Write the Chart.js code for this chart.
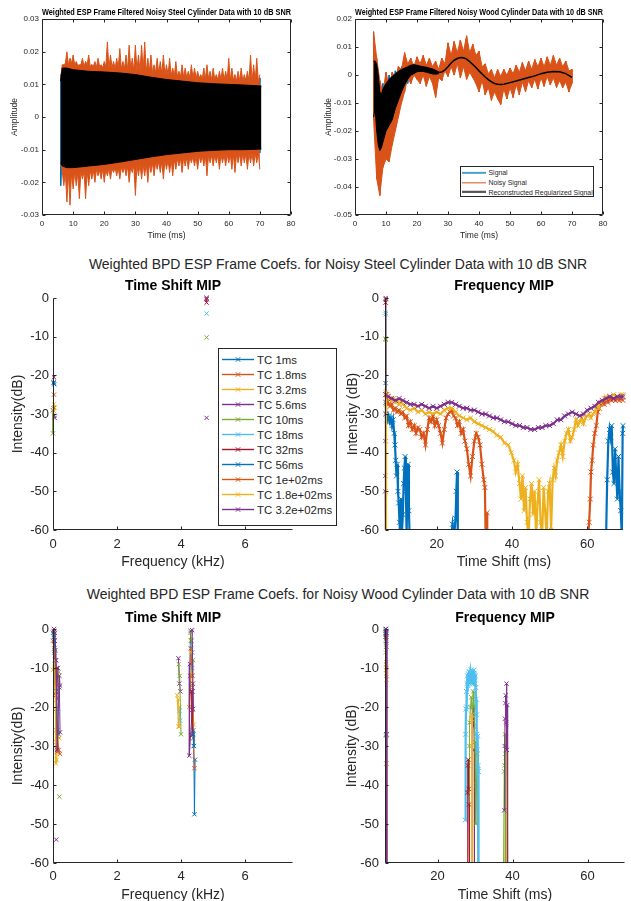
<!DOCTYPE html>
<html lang="en">
<head>
<meta charset="UTF-8">
<title>Weighted BPD ESP Frame Coefs.</title>
<script src="https://cdn.jsdelivr.net/npm/chart.js"></script>
<style>
  html, body { margin: 0; padding: 0; background: #fff; overflow: hidden; }
  #page { position: relative; width: 631px; height: 901px; font-family: "Liberation Sans", Arial, Helvetica, sans-serif; color: #262626; }
  canvas { position: absolute; }
  .suptitle { position: absolute; left: 38px; width: 600px; text-align: center; font-size: 14px; line-height: 16px; white-space: nowrap; }
  .legend { position: absolute; background: #fff; border: 1px solid #262626; box-sizing: border-box; }
  .legend .row { display: flex; align-items: center; white-space: nowrap; }
  .legend svg { flex: none; }
</style>
</head>
<body>
<div id="page">
  <canvas id="steelSignal" style="left:0px;top:0px" width="300" height="245"></canvas>
  <canvas id="woodSignal" style="left:315px;top:0px" width="297" height="245"></canvas>
  <div class="suptitle" style="top:256px">Weighted BPD ESP Frame Coefs. for Noisy Steel Cylinder Data with 10 dB SNR</div>
  <canvas id="steelTimeShift" style="left:0px;top:270px" width="302" height="305"></canvas>
  <canvas id="steelFreq" style="left:330px;top:270px" width="301" height="305"></canvas>
  <div class="suptitle" style="top:586px">Weighted BPD ESP Frame Coefs. for Noisy Wood Cylinder Data with 10 dB SNR</div>
  <canvas id="woodTimeShift" style="left:0px;top:600px" width="302" height="310"></canvas>
  <canvas id="woodFreq" style="left:330px;top:600px" width="301" height="310"></canvas>
  <div id="signalLegend" class="legend" style="left:460px;top:166px;width:134px;height:31px;padding-top:1px;font-size:6.9px"></div>
  <div id="tcLegend" class="legend" style="left:218px;top:348px;width:119px;height:178px;padding-top:3px;font-size:11.4px"></div>
</div>
<script>
// ---- top row: filtered signals (time in ms, amplitude) ----
const signalTimeTicks = [0, 10, 20, 30, 40, 50, 60, 70, 80];
const steelAmpTicks = [-0.03, -0.02, -0.01, 0, 0.01, 0.02, 0.03];
const woodAmpTicks = [-0.05, -0.04, -0.03, -0.02, -0.01, 0, 0.01, 0.02];

// steel: clean signal envelope (peaks / troughs)
const steelSignalTime = [6, 8, 10, 12, 14, 16, 18, 20, 22, 24, 26, 28, 30, 32, 34, 36, 38, 40, 42, 44, 46, 48, 50, 52, 54, 56, 58, 60, 62, 64, 66, 68, 70];
const steelSignalHigh = [0.013, 0.016, 0.015, 0.015, 0.015, 0.016, 0.015, 0.016, 0.015, 0.015,
  0.014, 0.015, 0.014, 0.013, 0.013, 0.013, 0.012, 0.012, 0.012, 0.013,
  0.012, 0.011, 0.012, 0.011, 0.012, 0.011, 0.011, 0.012, 0.011, 0.011,
  0.012, 0.011, 0.012];
const steelSignalLow = [-0.021, -0.018, -0.018, -0.019, -0.017, -0.017, -0.016, -0.016, -0.017, -0.016,
  -0.015, -0.015, -0.015, -0.014, -0.014, -0.014, -0.013, -0.013, -0.013, -0.013,
  -0.012, -0.012, -0.012, -0.013, -0.012, -0.012, -0.011, -0.012, -0.012, -0.011,
  -0.012, -0.011, -0.011];

// steel: noisy signal, spike peaks / troughs
const steelNoisyTime = [6, 7, 8, 9, 10, 11, 12, 13, 14, 15,
  16, 17, 18, 19, 20, 21, 22, 23, 24, 25,
  26, 27, 28, 29, 30, 31, 32, 33, 34, 35,
  36, 37, 38, 39, 40, 41, 42, 43, 44, 45,
  46, 47, 48, 49, 50, 51, 52, 53, 54, 55,
  56, 57, 58, 59, 60, 61, 62, 63, 64, 65,
  66, 67, 68, 69, 70];
const steelNoisyHigh = [0.012, 0.016, 0.020, 0.018, 0.019, 0.017, 0.016, 0.018, 0.017, 0.019,
  0.016, 0.017, 0.018, 0.016, 0.017, 0.023, 0.019, 0.017, 0.018, 0.021,
  0.017, 0.019, 0.022, 0.018, 0.022, 0.019, 0.022, 0.023, 0.018, 0.019,
  0.016, 0.018, 0.017, 0.019, 0.016, 0.018, 0.015, 0.017, 0.014, 0.016,
  0.015, 0.014, 0.016, 0.015, 0.014, 0.013, 0.015, 0.016, 0.014, 0.015,
  0.013, 0.014, 0.015, 0.014, 0.018, 0.015, 0.013, 0.014, 0.015, 0.013,
  0.014, 0.019, 0.016, 0.018, 0.013];
const steelNoisyLow = [-0.014, -0.021, -0.026, -0.027, -0.022, -0.021, -0.025, -0.019, -0.025, -0.021,
  -0.019, -0.020, -0.018, -0.019, -0.020, -0.018, -0.019, -0.017, -0.018, -0.019,
  -0.017, -0.018, -0.020, -0.017, -0.024, -0.018, -0.019, -0.018, -0.020, -0.017,
  -0.018, -0.016, -0.017, -0.019, -0.016, -0.017, -0.018, -0.016, -0.015, -0.017,
  -0.015, -0.016, -0.014, -0.015, -0.016, -0.014, -0.015, -0.018, -0.014, -0.015,
  -0.014, -0.016, -0.014, -0.015, -0.014, -0.016, -0.017, -0.014, -0.015, -0.014,
  -0.016, -0.014, -0.015, -0.014, -0.016];
// steel: noisy signal between the spikes
const steelValleyTime = [6.5, 7.5, 8.5, 9.5, 10.5, 11.5, 12.5, 13.5, 14.5, 15.5,
  16.5, 17.5, 18.5, 19.5, 20.5, 21.5, 22.5, 23.5, 24.5, 25.5,
  26.5, 27.5, 28.5, 29.5, 30.5, 31.5, 32.5, 33.5, 34.5, 35.5,
  36.5, 37.5, 38.5, 39.5, 40.5, 41.5, 42.5, 43.5, 44.5, 45.5,
  46.5, 47.5, 48.5, 49.5, 50.5, 51.5, 52.5, 53.5, 54.5, 55.5,
  56.5, 57.5, 58.5, 59.5, 60.5, 61.5, 62.5, 63.5, 64.5, 65.5,
  66.5, 67.5, 68.5, 69.5];
const steelValleyHigh = [0.016, 0.0165, 0.016, 0.0165, 0.016, 0.0158, 0.016, 0.0155, 0.016, 0.0155,
  0.0155, 0.0152, 0.0155, 0.015, 0.0153, 0.015, 0.0152, 0.0148, 0.015, 0.0147,
  0.0148, 0.0145, 0.0147, 0.0143, 0.0145, 0.014, 0.0142, 0.0138, 0.014, 0.0136,
  0.0135, 0.0133, 0.0132, 0.013, 0.0128, 0.0127, 0.0125, 0.0124, 0.0123, 0.0122,
  0.012, 0.0121, 0.0119, 0.0118, 0.0119, 0.0117, 0.0116, 0.0117, 0.0115, 0.0116,
  0.0114, 0.0115, 0.0113, 0.0114, 0.0112, 0.0113, 0.0111, 0.0112, 0.011, 0.0111,
  0.011, 0.0109, 0.011, 0.0108];
const steelValleyLow = [-0.0165, -0.017, -0.0172, -0.017, -0.0168, -0.017, -0.0167, -0.0165, -0.0166, -0.0163,
  -0.0163, -0.016, -0.0162, -0.0158, -0.016, -0.0157, -0.0158, -0.0155, -0.0156, -0.0153,
  -0.0152, -0.015, -0.0151, -0.0147, -0.0148, -0.0145, -0.0146, -0.0142, -0.0143, -0.014,
  -0.0139, -0.0137, -0.0136, -0.0133, -0.0132, -0.013, -0.0129, -0.0127, -0.0126, -0.0124,
  -0.0123, -0.0122, -0.0121, -0.012, -0.0119, -0.0119, -0.0118, -0.0117, -0.0117, -0.0116,
  -0.0116, -0.0115, -0.0115, -0.0114, -0.0114, -0.0113, -0.0113, -0.0112, -0.0112, -0.0112,
  -0.0112, -0.0111, -0.0111, -0.011];

// steel: reconstructed signal envelope
const steelRecTime = [6, 6.5, 8, 10, 15, 20, 25, 30, 35, 40, 45, 50, 55, 60, 65, 70.5];
const steelRecUpper = [0.011, 0.015, 0.015, 0.0145, 0.014, 0.0138, 0.0135, 0.013, 0.0122, 0.0115, 0.011, 0.0105, 0.0102, 0.01, 0.0098, 0.0095];
const steelRecLower = [-0.014, -0.015, -0.0155, -0.0155, -0.015, -0.0145, -0.0138, -0.013, -0.0122, -0.0115, -0.011, -0.0105, -0.0102, -0.01, -0.01, -0.0098];

// wood: early oscillating part of the signals
const woodBandTime = [6, 6.5, 7, 7.5, 8, 8.5, 9, 10, 11, 12, 13, 14, 15, 16, 17, 18, 19, 20, 21, 22, 23, 24, 25, 26, 27];
const woodSignalHigh = [0.006, 0.005, 0.005, 0.002, -0.003, -0.005, -0.003, -0.001, 0.0, 0.0005,
  0.0015, 0.002, 0.003, 0.0035, 0.0035, 0.004, 0.004, 0.004, 0.0035, 0.0033,
  0.003, 0.0028, 0.0025, 0.002, 0.0014];
const woodSignalLow = [-0.016, -0.014, -0.022, -0.034, -0.038, -0.035, -0.029, -0.024, -0.021, -0.018,
  -0.014, -0.011, -0.008, -0.005, -0.003, -0.001, 0.0, 0.0008, 0.001, 0.001,
  0.0008, 0.0005, 0.0002, 0.0001, 0.0003];
const woodRecHigh = [0.005, 0.005, 0.004, 0.0, -0.006, -0.007, -0.005, -0.003, -0.0015, -0.0005,
  0.0005, 0.0013, 0.002, 0.0025, 0.003, 0.0035, 0.0037, 0.0035, 0.0032, 0.003,
  0.0028, 0.0025, 0.0022, 0.0017, 0.0011];
const woodRecLow = [-0.015, -0.012, -0.02, -0.025, -0.027, -0.026, -0.024, -0.02, -0.018, -0.016,
  -0.012, -0.009, -0.006, -0.0035, -0.0015, 0.0, 0.0005, 0.0012, 0.0013, 0.0013,
  0.001, 0.0007, 0.0004, 0.0003, 0.0005];

// wood: noisy signal peaks / troughs
const woodNoisyTime = [6, 7, 8, 9, 10, 11, 12, 13, 14, 15,
  16, 17, 18, 19, 20, 21, 22, 23, 24, 25,
  26, 27, 28, 29, 30, 31, 32, 33, 34, 35,
  36, 37, 38, 39, 40, 41, 42, 43, 44, 45,
  46, 47, 48, 49, 50, 51, 52, 53, 54, 55,
  56, 57, 58, 59, 60, 61, 62, 63, 64, 65,
  66, 67, 68, 69, 70];
const woodNoisyHigh = [0.0155, 0.006, -0.002, -0.006, 0.001, -0.004, 0.001, -0.001, 0.003, 0.002,
  0.008, 0.004, 0.006, 0.003, 0.0065, 0.004, 0.007, 0.0035, 0.006, 0.003,
  0.005, 0.002, 0.006, 0.004, 0.0115, 0.007, 0.012, 0.008, 0.0125, 0.0085,
  0.014, 0.008, 0.011, 0.007, 0.0085, 0.003, 0.004, 0.0005, 0.002, -0.001,
  0.002, -0.0005, 0.002, 0.0, 0.0025, 0.0005, 0.0035, 0.001, 0.0045, 0.0015,
  0.005, 0.002, 0.0055, 0.003, 0.006, 0.003, 0.0065, 0.0035, 0.007, 0.0035,
  0.006, 0.003, 0.005, 0.0015, 0.002];
const woodNoisyLow = [-0.016, -0.037, -0.043, -0.033, -0.03, -0.031, -0.025, -0.02, -0.015, -0.01,
  -0.006, -0.001, -0.003, 0.0, -0.0015, -0.003, 0.0, -0.004, -0.0005, -0.003,
  -0.008, -0.001, -0.002, 0.0015, -0.0005, 0.003, 0.0, 0.004, -0.001, 0.003,
  -0.0015, 0.001, -0.001, -0.003, -0.006, -0.002, -0.007, -0.0045, -0.009, -0.006,
  -0.0085, -0.0105, -0.005, -0.0085, -0.0045, -0.008, -0.0035, -0.007, -0.0025, -0.006,
  -0.002, -0.0045, -0.0015, -0.005, -0.001, -0.004, -0.0005, -0.0035, -0.001, -0.0045,
  -0.002, -0.0045, -0.0025, -0.006, -0.003];

// wood: reconstructed smooth part
const woodRecTime = [20, 22, 24, 26, 27, 28, 29, 30, 31, 32, 33, 34, 35, 36, 37, 38, 39, 40, 41, 42, 43, 44, 45, 46, 47, 48, 50, 52, 54, 56, 58, 60, 62, 64, 66, 68, 70];
const woodRecValue = [0.0024, 0.0027, 0.0022, 0.0012, 0.0009, 0.0011, 0.0018, 0.003, 0.0043, 0.0053,
  0.0059, 0.0063, 0.0062, 0.0057, 0.0048, 0.0038, 0.0027, 0.0015, 0.0004, -0.0007,
  -0.0016, -0.0024, -0.003, -0.0033, -0.0034, -0.0033, -0.0027, -0.0021, -0.0015, -0.0009,
  -0.0003, 0.0005, 0.001, 0.0013, 0.0012, 0.0005, -0.0008];

const signalLegendLabels = ['Signal', 'Noisy Signal', 'Reconstructed Regularized Signal'];

// ---- MIP plots: one list of [x, dB] points per time constant, null = gap ----
const tcLabels = ['TC 1ms', 'TC 1.8ms', 'TC 3.2ms', 'TC 5.6ms', 'TC 10ms', 'TC 18ms', 'TC 32ms', 'TC 56ms', 'TC 1e+02ms', 'TC 1.8e+02ms', 'TC 3.2e+02ms'];
const intensityTicks = [-60, -50, -40, -30, -20, -10, 0];
const freqTicks = [0, 2, 4, 6];
const shiftTicks = [20, 40, 60];

const steelTimeShiftMip = [
  [[0.02, -21.8], [0.04, -22.3]],
  [[0.03, -25]],
  [[0.03, -27.5], [0.05, -28.3]],
  [[0.0, -29], [0.04, -30.5], null, [4.8, 0]],
  [[0.0, -29], [0.0, -35], null, [4.8, -10.2]],
  [[4.8, -4]],
  [[0.03, -20.5], null, [4.8, -1.2], [4.8, -0.3]],
  [[0.02, -22]],
  [[0.02, -28.5]],
  [[0.03, -29.2]],
  [[0.05, -31], null, [4.8, 0], null, [4.8, -31]]
];

const steelFreqMip = [
  [[6.3, -62], [6.4, -22], [6.5, -62]],
  [[6.3, -62], [6.4, -25], [6.5, -62]],
  [[6.3, -62], [6.4, -27.5], [6.5, -62]],
  [[6.3, -50], [6.33, -46], [6.36, -37], [6.39, -30], [6.42, 0], [6.45, -62]],
  [[6.35, -62], [6.4, -10.5], [6.45, -10.8], [6.5, -62]],
  [[6.35, -62], [6.4, -3.8], [6.44, -4.2], [6.5, -62]],
  [[6.35, -62], [6.4, -1.2], [6.45, -0.3], [6.5, -62]],
  [[6.45, -27], [6.6, -30], [6.9, -31.5], [7.2, -30.5], [7.5, -32], [7.8, -31], [8.1, -33], [8.4, -31.5], [8.7, -35], [8.9, -38],
   [9.1, -42], [9.3, -46], [9.5, -43], [9.7, -50], [9.9, -53], [10.1, -58], [10.3, -62], [10.5, -52], [10.7, -62], [11.0, -56],
   [11.2, -48], [11.4, -44], [11.6, -41], [11.8, -50], [12.0, -62], [12.2, -47], [12.4, -43], [12.6, -55], [12.8, -62], null,
   [23.8, -62], [24.2, -58.5], [24.6, -62], [25.0, -57], [25.2, -50], [25.4, -45], [25.6, -62], null,
   [65.0, -62], [65.3, -47], [65.6, -37], [65.9, -34], [66.2, -36], [66.5, -33], [66.8, -45], [67.1, -48], [67.4, -39], [67.7, -46],
   [68.0, -52], [68.3, -41], [68.6, -50], [68.9, -55], [69.2, -62], [69.4, -35], [69.5, -33]],
  [[6.4, -62], [6.5, -25], [6.8, -26], [7.2, -27.5], [7.6, -28], [8.0, -27.5], [8.5, -29], [9.0, -28.5], [9.5, -29.5], [10.0, -29],
   [10.5, -30], [11.0, -29.5], [11.5, -31], [12.0, -30.5], [12.5, -33], [13.0, -32], [13.5, -34], [14.0, -33], [14.5, -35], [15.0, -33.5],
   [15.5, -34], [16.0, -36], [16.5, -35], [17.0, -38], [17.5, -34], [18.0, -31], [18.5, -32], [19.0, -30.5], [19.5, -33], [20.0, -31.5],
   [20.5, -33], [21.0, -35], [21.5, -37.5], [22.0, -34], [22.5, -31], [23.0, -30], [23.5, -29.5], [24.0, -29], [24.5, -30.5], [25.0, -31],
   [25.5, -33], [26.0, -32], [26.5, -35], [27.0, -34], [27.5, -37], [28.0, -39], [28.5, -43], [29.0, -46], [29.5, -41], [30.0, -37],
   [30.5, -35], [31.0, -36], [31.5, -38], [32.0, -43], [32.5, -47], [32.8, -49], [33.0, -62], null,
   [33.4, -62], [33.4, -55.5], [33.45, -62], null,
   [60.2, -62], [60.5, -58], [60.8, -52], [61.0, -45], [61.3, -42], [61.6, -38], [62.0, -35], [62.4, -33], [62.8, -29.5], [63.2, -28.5],
   [63.6, -27.5], [64.0, -27], [64.5, -27.5], [65.0, -26.5], [65.5, -27], [66.0, -26], [66.5, -26.5], [67, -26], [67.5, -26.5], [68, -26],
   [68.5, -26.5], [69, -26], [69.5, -26.5]],
  [[6.4, -62], [6.5, -24.5], [6.8, -25], [7.2, -25.5], [7.6, -26], [8.0, -26.5], [8.5, -26], [9.0, -27], [9.5, -26.5], [10.0, -27.5],
   [10.5, -27], [11.0, -27.5], [11.5, -28], [12.0, -28.5], [13.0, -29], [14.0, -28.5], [15.0, -29.5], [16.0, -29], [17.0, -30], [18.0, -29.5],
   [19.0, -30], [20.0, -29.5], [21.0, -30], [22.0, -29], [23.0, -28.5], [24.0, -28.5], [25.0, -29.5], [26.0, -30.5], [27.0, -31], [28.0, -31.5],
   [29.0, -31], [30.0, -32], [31.0, -32.5], [32.0, -33], [33.0, -33.5], [34.0, -34], [35.0, -34.5], [36.0, -35.5], [37.0, -36], [38.0, -37.5],
   [39.0, -38], [39.8, -40], [40.5, -42], [41.0, -45], [41.5, -43], [42.0, -48], [42.4, -52], [42.8, -46], [43.2, -55], [43.6, -49],
   [44.0, -58], [44.4, -62], [44.8, -52], [45.2, -48], [45.6, -56], [46.0, -50], [46.4, -62], [46.8, -53], [47.2, -47], [47.6, -58],
   [48.0, -62], [48.4, -49], [48.8, -55], [49.2, -62], [49.6, -50], [50.0, -48], [50.4, -60], [50.8, -47], [51.2, -44], [51.6, -46],
   [52.0, -42], [52.5, -40], [53.0, -38], [53.5, -41], [54.0, -37], [54.5, -35], [55.0, -34], [55.5, -37], [56.0, -36], [56.5, -34],
   [57.0, -31.5], [57.5, -33], [58.0, -32], [58.5, -31], [59.0, -32.5], [59.5, -31], [60.0, -30.5], [60.5, -30], [61.0, -31], [61.5, -30],
   [62.0, -29.5], [62.5, -28], [63.0, -28.5], [63.5, -27], [64.0, -26.5], [64.5, -26], [65.0, -25.5], [66, -25.5], [67, -25], [68, -25.5],
   [69, -25], [69.5, -25]],
  [[6.45, -25], [7, -25.5], [8, -26], [9, -26.5], [10, -26], [11, -26.5], [12, -27], [13, -27.5], [14, -27.5], [15, -28],
   [16, -27.5], [17, -28], [18, -28.5], [19, -28], [20, -28.5], [21, -28], [22, -27.5], [23, -27], [24, -27], [25, -27.5],
   [26, -28], [27, -28.5], [28, -28.5], [29, -29], [30, -29], [31, -29.5], [32, -30], [33, -30], [34, -30.5], [35, -31],
   [36, -31], [37, -31.5], [38, -32], [39, -32], [40, -32.5], [41, -33], [42, -33], [43, -33.5], [44, -33.5], [45, -34],
   [46, -34], [47, -33.5], [48, -33.5], [49, -33], [50, -33], [51, -32.5], [52, -31.5], [53, -31.5], [54, -30.5], [55, -30],
   [56, -29.5], [57, -30], [58, -30.5], [59, -30], [60, -29], [61, -28.5], [62, -28], [63, -27], [64, -26.5], [65, -26],
   [66, -25.5], [67, -26], [68, -25.5], [69, -25.5], [69.5, -25.5]]
];

const woodTimeShiftMip = [
  [[0.0, -1], [0.03, -2], [0.06, -5.5], [0.1, -16], [0.14, -21.5], [0.18, -27], null,
   [4.32, -3], [4.35, -10], [4.38, -26], [4.4, -30], [4.42, -47.5], [4.44, -33.5]],
  [[0.0, -3], [0.04, -6], [0.07, -9.5], [0.1, -20.5], [0.14, -26], [0.18, -31], [0.22, -32], null,
   [4.28, -12], [4.33, -20], [4.38, -28], [4.42, -35.7]],
  [[0.0, -10.5], [0.04, -4], [0.07, -14], [0.09, -34.5], [0.12, -33.5], [0.16, -27.5], [0.2, -28], null,
   [3.88, -17], [3.92, -25], [3.96, -20], null, [4.25, -20], [4.3, -3], [4.35, -12], [4.4, -24.5]],
  [[0.03, 0], [0.05, -3], [0.08, -8], [0.12, -18], [0.15, -10], [0.2, -15], [0.22, -26.5], null,
   [3.92, -7.5], [3.95, -14], [3.98, -16], null, [4.3, -0.5], [4.28, -9], [4.26, -32.5], [4.35, -20.7]],
  [[0.02, -1], [0.06, -10], [0.1, -26], [0.14, -27.5], [0.18, -11], null, [0.2, -43], null,
   [3.93, -9], [3.96, -12], [4.0, -27], null, [4.3, -1], [4.33, -3], [4.36, -15], [4.38, -8]],
  [[0.02, -2], [0.05, -6], [0.12, -21], [0.16, -21.5], null,
   [3.95, -21], [3.97, -23.5], null, [4.32, -4], [4.34, -10], [4.36, -6]],
  [[0.02, -0.5], [0.05, -3], [0.08, -17], [0.12, -10], null, [4.33, -16], [4.35, -27.2], [4.37, -14]],
  [[0.03, -1.5], [0.06, -5.5], [0.1, -16], null, [4.38, -27], [4.4, -30]],
  [[0.04, -5], [0.09, -20.5], [0.13, -31.5], null, [4.3, -5], [4.36, -12]],
  [[0.05, -8], [0.1, -29], null, [3.92, -18], [3.95, -25], null, [4.32, -6]],
  [[0.06, -1], [0.1, -8], [0.13, -31], [0.2, -12], [0.22, -14.5], null, [0.1, -54], null,
   [4.35, -0.3], [4.38, -20.5], [4.36, -16]]
];

const woodFreqMip = [
  [[6.2, 0], [6.3, -1], [6.35, -27], [6.4, -62]],
  [[6.2, -0.5], [6.25, -2], [6.3, -27.3], [6.35, -34.5], [6.4, -62]],
  [[6.2, -6], [6.25, -9], [6.3, -8.5], [6.35, -12], [6.4, -10], [6.45, -13], [6.5, -62], null,
   [37.9, -62], [38.2, -34], [38.4, -24.5], [38.5, -62]],
  [[6.2, 0], [6.3, -1], [6.35, -4.5], [6.4, -62], null, [29.6, -20], [29.7, -25], [29.8, -31], [29.85, -62]],
  [[6.2, -1.5], [6.3, -4], [6.4, -62], null,
   [28.4, -62], [28.5, -30], [28.6, -24], [28.8, -20], [29.0, -17.5], [29.3, -22], [29.5, -16], [29.7, -20], [30.0, -29], [30.2, -50],
   [30.4, -40], [30.6, -32], [30.8, -62], null,
   [37.6, -62], [37.8, -36.5], [37.9, -35], [38.0, -27], [38.1, -32], [38.2, -62]],
  [[6.2, -1], [6.3, -2.5], [6.4, -62], null,
   [27.4, -49], [27.5, -27], [27.6, -20.5], [27.7, -16], [27.8, -20], [27.9, -14], [28.0, -12], [28.1, -14.5], [28.2, -11.5], [28.3, -13.5],
   [28.4, -11], [28.5, -14], [28.6, -12], [28.7, -11], [28.8, -13.5], [28.9, -12], [29.0, -10.5], [29.1, -14], [29.2, -11.5], [29.3, -13],
   [29.4, -11], [29.5, -14], [29.6, -12], [29.7, -10.5], [29.8, -13.5], [29.9, -11.5], [30.0, -14], [30.1, -12], [30.2, -15], [30.3, -18],
   [30.4, -22], [30.5, -27], [30.6, -31], [30.7, -27.5], [30.8, -35], [30.9, -36.5], [31.0, -62]],
  [[6.2, -2], [6.3, -3], [6.4, -62], null, [27.9, -62], [28.0, -42], [28.1, -35], [28.2, -33.5], [28.3, -41], [28.4, -45], [28.5, -62]],
  [[6.2, -0.5], [6.3, -1.5], [6.4, -27], [6.45, -62]],
  [[6.25, -1], [6.35, -2], [6.45, -62]],
  [[6.3, -10.5], [6.4, -11.5], [6.45, -62], null, [29.0, -62], [29.1, -23], [29.2, -22], [29.3, -62]],
  [[6.25, 0], [6.35, -1], [6.45, -62], null,
   [37.8, -46.5], [37.9, -30], [38.0, -23], [38.1, -19], [38.2, -17], [38.3, -24], [38.4, -14], [38.5, -31], [38.6, -19.5], [38.7, -62]]
];

// ---- styling ----
const tcColors = ['#0072BD', '#D95319', '#EDB120', '#7E2F8E', '#77AC30', '#4DBEEE', '#A2142F', '#0072BD', '#D95319', '#EDB120', '#7E2F8E'];
const axisColor = '#262626';

Chart.defaults.font.family = '"Liberation Sans", Arial, Helvetica, sans-serif';
Chart.defaults.color = axisColor;

// MATLAB style axes: axis lines (optionally a full box) with inward ticks
const matlabAxes = {
  id: 'matlabAxes',
  afterDatasetsDraw(chart, args, opts) {
    const {ctx, chartArea: a} = chart;
    const xs = chart.scales.x, ys = chart.scales.y;
    const len = 3;
    const L = Math.round(a.left) + 0.5, R = Math.round(a.right) - 0.5;
    const T = Math.round(a.top) + 0.5, B = Math.round(a.bottom) - 0.5;
    ctx.save();
    ctx.strokeStyle = axisColor;
    ctx.lineWidth = 1;
    ctx.beginPath();
    ctx.moveTo(L, T); ctx.lineTo(L, B); ctx.lineTo(R, B);
    if (opts.box) { ctx.lineTo(R, T); ctx.lineTo(L, T); }
    xs.ticks.forEach(t => {
      const px = Math.round(xs.getPixelForValue(t.value)) + 0.5;
      ctx.moveTo(px, B); ctx.lineTo(px, B - len);
      if (opts.box) { ctx.moveTo(px, T); ctx.lineTo(px, T + len); }
    });
    ys.ticks.forEach(t => {
      const py = Math.round(ys.getPixelForValue(t.value)) + 0.5;
      ctx.moveTo(L, py); ctx.lineTo(L + len, py);
      if (opts.box) { ctx.moveTo(R, py); ctx.lineTo(R - len, py); }
    });
    ctx.stroke();
    ctx.restore();
  }
};

function toPoints(list) {
  return list.map(p => p ? { x: p[0], y: p[1] } : { x: NaN, y: NaN });
}

function pairs(times, values) {
  return times.map((t, i) => ({ x: t, y: values[i] }));
}

// spike tips and the values between them, merged in time order
function merged(t1, v1, t2, v2) {
  return pairs(t1, v1).concat(pairs(t2, v2)).sort((a, b) => a.x - b.x);
}

// peaks and troughs joined into one dense trace
function zigzag(times, highs, lows) {
  const out = [];
  times.forEach((t, i) => { out.push({ x: t, y: highs[i] }); out.push({ x: t, y: lows[i] }); });
  return out;
}

function axis(min, max, tickValues, o) {
  return {
    type: 'linear', min: min, max: max,
    grid: { display: false, drawTicks: false },
    border: { display: false },
    afterBuildTicks: s => { s.ticks = tickValues.map(v => ({ value: v })); },
    afterFit: s => { if (s.isHorizontal()) s.height = o.size; else s.width = o.size; },
    ticks: { padding: o.tickPad, color: axisColor, font: { size: o.tickSize }, maxRotation: 0, autoSkip: false, callback: v => String(v) },
    title: { display: true, text: o.label, color: axisColor, font: { size: o.labelSize }, padding: o.labelPad }
  };
}

function makeChart(id, o) {
  return new Chart(document.getElementById(id), {
    type: 'line',
    data: { datasets: o.datasets },
    options: {
      responsive: false, animation: false, devicePixelRatio: 1, events: [],
      layout: { padding: { left: 0, right: o.padRight, top: 0, bottom: 0 } },
      scales: { x: o.x, y: o.y },
      plugins: {
        legend: { display: false },
        tooltip: { enabled: false },
        title: { display: true, text: o.title, color: '#000', fullSize: false,
                 font: { size: o.titleSize, weight: 'bold' }, padding: o.titlePad },
        matlabAxes: { box: o.box }
      }
    },
    plugins: [matlabAxes]
  });
}

function trace(data, color, order, extra) {
  return Object.assign({ data: data, borderColor: color, backgroundColor: color, borderWidth: 1,
    pointRadius: 0, fill: false, tension: 0, order: order }, extra || {});
}

function mipDatasets(seriesList) {
  return seriesList.map((s, i) => {
    const dense = s.length > 40;
    return {
      label: tcLabels[i],
      data: toPoints(s),
      borderColor: tcColors[i], backgroundColor: tcColors[i], borderWidth: dense ? 2.2 : 1,
      pointStyle: 'crossRot', pointRadius: dense ? 3.5 : 3, pointBorderWidth: 1, pointBorderColor: tcColors[i],
      fill: false, tension: 0, order: tcLabels.length - i,
      clip: { left: 6, top: 6, right: 6, bottom: 0 }
    };
  });
}

// ---- top row ----
const topX = { size: 30, tickPad: 4.2, tickSize: 8, label: 'Time (ms)', labelSize: 8.5, labelPad: { top: 0, bottom: 4.6 } };

makeChart('steelSignal', {
  title: 'Weighted ESP Frame Filtered Noisy Steel Cylinder Data with 10 dB SNR', titleSize: 8.4,
  titlePad: { top: 7.5, bottom: 1.5 }, padRight: 9, box: true,
  x: axis(0, 80, signalTimeTicks, topX),
  y: axis(-0.03, 0.03, steelAmpTicks, { size: 42, tickPad: 3, tickSize: 8, label: 'Amplitude', labelSize: 8.5, labelPad: { top: 9.2, bottom: 0 } }),
  datasets: [
    trace(pairs(steelRecTime, steelRecUpper), '#000', 0),
    trace(pairs(steelRecTime, steelRecLower), '#000', 0, { fill: '-1' }),
    trace(merged(steelNoisyTime, steelNoisyHigh, steelValleyTime, steelValleyHigh), '#D95319', 1),
    trace(merged(steelNoisyTime, steelNoisyLow, steelValleyTime, steelValleyLow), '#D95319', 1, { fill: '-1' }),
    trace(zigzag(steelSignalTime, steelSignalHigh, steelSignalLow), '#0072BD', 2)
  ]
});

makeChart('woodSignal', {
  title: 'Weighted ESP Frame Filtered Noisy Wood Cylinder Data with 10 dB SNR', titleSize: 8.4,
  titlePad: { top: 7.5, bottom: 1.5 }, padRight: 9, box: true,
  x: axis(0, 80, signalTimeTicks, topX),
  y: axis(-0.05, 0.02, woodAmpTicks, { size: 40, tickPad: 3, tickSize: 8, label: 'Amplitude', labelSize: 8.5, labelPad: { top: 8.2, bottom: 0 } }),
  datasets: [
    trace(pairs(woodBandTime, woodRecHigh), '#000', 0),
    trace(pairs(woodBandTime, woodRecLow), '#000', 0, { fill: '-1' }),
    trace(pairs(woodRecTime, woodRecValue), '#000', 0, { borderWidth: 1.5 }),
    trace(pairs(woodNoisyTime, woodNoisyHigh), '#D95319', 1),
    trace(pairs(woodNoisyTime, woodNoisyLow), '#D95319', 1, { fill: '-1' }),
    trace(zigzag(woodNoisyTime, woodNoisyHigh, woodNoisyLow), '#D95319', 1),
    trace(zigzag(woodBandTime, woodSignalHigh, woodSignalLow), '#0072BD', 2)
  ]
});

// ---- MIP rows ----
const mipY = { tickPad: 4, tickSize: 13, labelSize: 14 };

makeChart('steelTimeShift', {
  title: 'Time Shift MIP', titleSize: 14, titlePad: { top: 7.6, bottom: 3.6 }, padRight: 9, box: false,
  x: axis(0, 7.5, freqTicks, { size: 45, tickPad: 6.5, tickSize: 13, label: 'Frequency (kHz)', labelSize: 14, labelPad: { top: 0, bottom: 4.3 } }),
  y: axis(-60, 0, intensityTicks, Object.assign({}, mipY, { size: 53, label: 'Intensity(dB)', labelPad: { top: 9.9, bottom: 0 } })),
  datasets: mipDatasets(steelTimeShiftMip)
});

makeChart('steelFreq', {
  title: 'Frequency MIP', titleSize: 14, titlePad: { top: 7.6, bottom: 3.6 }, padRight: 8, box: false,
  x: axis(6.25, 69.5, shiftTicks, { size: 45, tickPad: 6.5, tickSize: 13, label: 'Time Shift (ms)', labelSize: 14, labelPad: { top: 0, bottom: 4.3 } }),
  y: axis(-60, 0, intensityTicks, Object.assign({}, mipY, { size: 55, tickPad: 6, label: 'Intensity (dB)', labelPad: { top: 14.9, bottom: 0 } })),
  datasets: mipDatasets(steelFreqMip)
});

makeChart('woodTimeShift', {
  title: 'Time Shift MIP', titleSize: 14, titlePad: { top: 9.3, bottom: 2.9 }, padRight: 9, box: false,
  x: axis(0, 7.5, freqTicks, { size: 47, tickPad: 6, tickSize: 13, label: 'Frequency (kHz)', labelSize: 14, labelPad: { top: 0, bottom: 6.6 } }),
  y: axis(-60, 0, intensityTicks, Object.assign({}, mipY, { size: 53, label: 'Intensity(dB)', labelPad: { top: 9.9, bottom: 0 } })),
  datasets: mipDatasets(woodTimeShiftMip)
});

makeChart('woodFreq', {
  title: 'Frequency MIP', titleSize: 14, titlePad: { top: 9.3, bottom: 2.9 }, padRight: 6, box: false,
  x: axis(6.0, 70.0, shiftTicks, { size: 47, tickPad: 6, tickSize: 13, label: 'Time Shift (ms)', labelSize: 14, labelPad: { top: 0, bottom: 6.6 } }),
  y: axis(-60, 0, intensityTicks, Object.assign({}, mipY, { size: 55, tickPad: 6, label: 'Intensity (dB)', labelPad: { top: 13.3, bottom: 0 } })),
  datasets: mipDatasets(woodFreqMip)
});

// ---- legends ----
const sigLegend = document.getElementById('signalLegend');
const sigColors = ['#4C9FD6', '#D95319', '#555555'];
const sigWidths = [2, 1, 2.2];
signalLegendLabels.forEach((label, i) => {
  const row = document.createElement('div');
  row.className = 'row';
  row.style.height = '9.7px';
  row.innerHTML = '<svg width="24" height="9.7" style="margin-left:1px;margin-right:2.5px">' +
    '<line x1="0" y1="4.85" x2="24" y2="4.85" stroke="' + sigColors[i] + '" stroke-width="' + sigWidths[i] + '"/></svg>' +
    '<span>' + label + '</span>';
  sigLegend.appendChild(row);
});

const tcLegend = document.getElementById('tcLegend');
tcLabels.forEach((label, i) => {
  const c = tcColors[i];
  const row = document.createElement('div');
  row.className = 'row';
  row.style.height = '15.03px';
  row.innerHTML = '<svg width="32" height="15" style="margin-left:2.7px;margin-right:3.4px">' +
    '<line x1="0" y1="7.5" x2="32" y2="7.5" stroke="' + c + '" stroke-width="1.4"/>' +
    '<path d="M13.8 5.3 L18.2 9.7 M18.2 5.3 L13.8 9.7" stroke="' + c + '" stroke-width="1"/></svg>' +
    '<span>' + label + '</span>';
  tcLegend.appendChild(row);
});
</script>
</body>
</html>
